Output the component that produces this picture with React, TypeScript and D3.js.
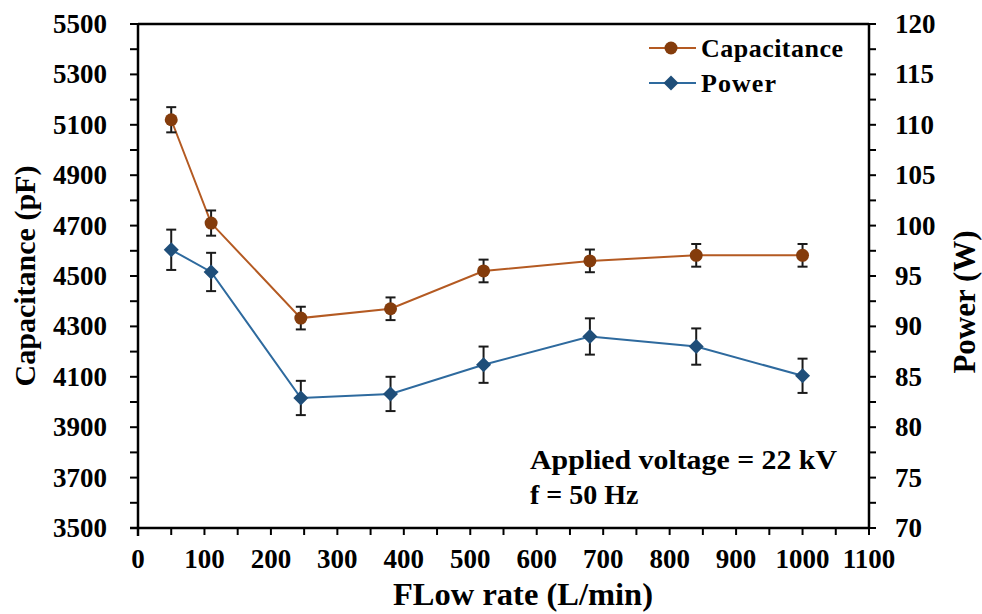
import React from "react";
import * as d3 from "d3";

// Flow rate (L/min) at each measurement
const flowRate = [50, 110, 245, 380, 520, 680, 840, 1000];
// Capacitance (pF) and its error
const capacitance = [5120, 4710, 4333, 4370, 4520, 4560, 4582, 4582];
const capacitanceErr = [50, 50, 45, 45, 45, 45, 45, 45];
// Discharge power (W) and its error
const power = [97.6, 95.4, 82.9, 83.3, 86.2, 89.0, 88.0, 85.1];
const powerErr = [2.0, 1.9, 1.7, 1.7, 1.8, 1.8, 1.8, 1.7];

const xTicks = d3.range(0, 1101, 100);
const xMinor = d3.range(0, 1101, 50);
const capTicks = d3.range(3500, 5501, 200);
const capMinor = d3.range(3500, 5501, 100);
const powTicks = d3.range(70, 121, 5);
const powMinor = d3.range(70, 120.1, 2.5);

const W = 982;
const H = 614;
const M = { left: 138, right: 869, top: 24, bottom: 528 };

const CAP_LINE = "#B45A22";
const CAP_MARK = "#843C0C";
const POW_LINE = "#2E6A9E";
const POW_MARK = "#1F4E79";
const FONT = "'Liberation Serif', 'Times New Roman', serif";

export default function App() {
  const x = d3.scaleLinear().domain([0, 1100]).range([M.left, M.right]);
  const yCap = d3.scaleLinear().domain([3500, 5500]).range([M.bottom, M.top]);
  const yPow = d3.scaleLinear().domain([70, 120]).range([M.bottom, M.top]);

  const capLine = d3
    .line<number>()
    .x((_, i) => x(flowRate[i]))
    .y((d) => yCap(d));
  const powLine = d3
    .line<number>()
    .x((_, i) => x(flowRate[i]))
    .y((d) => yPow(d));

  const diamond = (cx: number, cy: number, r: number) =>
    `M${cx},${cy - r}L${cx + r},${cy}L${cx},${cy + r}L${cx - r},${cy}Z`;

  const errBar = (cx: number, y1: number, y2: number, key: string) => (
    <g key={key} stroke="#1a1a1a" strokeWidth={2}>
      <line x1={cx} x2={cx} y1={y1} y2={y2} />
      <line x1={cx - 5} x2={cx + 5} y1={y1} y2={y1} />
      <line x1={cx - 5} x2={cx + 5} y1={y2} y2={y2} />
    </g>
  );

  const tickFont = 27;

  return (
    <svg
      width={W}
      height={H}
      style={{ position: "absolute", left: 0, top: 0, background: "#fff" }}
      fontFamily={FONT}
      fontWeight="bold"
    >
      <rect width={W} height={H} fill="#fff" />

      {/* frame */}
      <line x1={M.left} x2={M.right} y1={M.top} y2={M.top} stroke="#000" strokeWidth={2.5} />

      {/* x axis */}
      <line x1={M.left - 8} x2={M.right + 1} y1={M.bottom} y2={M.bottom} stroke="#000" strokeWidth={2.5} />
      {xMinor.map((v) => (
        <line key={"xm" + v} x1={x(v)} x2={x(v)} y1={M.bottom} y2={M.bottom + 7} stroke="#000" strokeWidth={2} />
      ))}
      {xTicks.map((v) => (
        <text key={"xt" + v} x={x(v)} y={M.bottom + 40} textAnchor="middle" fontSize={tickFont} fill="#000">
          {v}
        </text>
      ))}
      <text
        x={393}
        y={605}
        fontSize={31}
        fill="#000"
        textLength={260}
        lengthAdjust="spacingAndGlyphs"
      >
        FLow rate (L/min)
      </text>

      {/* left axis */}
      <line x1={M.left} x2={M.left} y1={M.top - 1} y2={M.bottom + 8} stroke="#000" strokeWidth={2.5} />
      {capMinor.map((v) => (
        <line key={"lm" + v} x1={M.left - 8} x2={M.left} y1={yCap(v)} y2={yCap(v)} stroke="#000" strokeWidth={2} />
      ))}
      {capTicks.map((v) => (
        <text key={"lt" + v} x={107} y={yCap(v) + 9} textAnchor="end" fontSize={tickFont} fill="#000">
          {v}
        </text>
      ))}
      <text
        transform={`translate(35,${(M.top + M.bottom) / 2}) rotate(-90)`}
        textAnchor="middle"
        fontSize={30}
        fill="#000"
      >
        Capacitance (pF)
      </text>

      {/* right axis */}
      <line x1={M.right} x2={M.right} y1={M.top - 1} y2={M.bottom + 1} stroke="#000" strokeWidth={2.5} />
      {powMinor.map((v) => (
        <line key={"rm" + v} x1={M.right} x2={M.right + 7} y1={yPow(v)} y2={yPow(v)} stroke="#000" strokeWidth={2} />
      ))}
      {powTicks.map((v) => (
        <text key={"rt" + v} x={895} y={yPow(v) + 9} textAnchor="start" fontSize={tickFont} fill="#000">
          {v}
        </text>
      ))}
      <text
        transform={`translate(975,302) rotate(-90)`}
        textAnchor="middle"
        fontSize={31}
        fill="#000"
      >
        Power (W)
      </text>

      {/* series lines */}
      <path d={capLine(capacitance) ?? ""} fill="none" stroke={CAP_LINE} strokeWidth={2} />
      <path d={powLine(power) ?? ""} fill="none" stroke={POW_LINE} strokeWidth={2} />

      {/* error bars */}
      {capacitance.map((v, i) =>
        errBar(x(flowRate[i]), yCap(v + capacitanceErr[i]), yCap(v - capacitanceErr[i]), "ce" + i)
      )}
      {power.map((v, i) => errBar(x(flowRate[i]), yPow(v + powerErr[i]), yPow(v - powerErr[i]), "pe" + i))}

      {/* markers */}
      {capacitance.map((v, i) => (
        <circle key={"cm" + i} cx={x(flowRate[i])} cy={yCap(v)} r={6.5} fill={CAP_MARK} />
      ))}
      {power.map((v, i) => (
        <path key={"pm" + i} d={diamond(x(flowRate[i]), yPow(v), 7.5)} fill={POW_MARK} />
      ))}

      {/* legend */}
      <g>
        <line x1={649} x2={696} y1={48} y2={48} stroke={CAP_LINE} strokeWidth={2} />
        <circle cx={671} cy={48} r={6.5} fill={CAP_MARK} />
        <text x={701} y={57} fontSize={26} fill="#000" textLength={142}>
          Capacitance
        </text>
        <line x1={649} x2={696} y1={83} y2={83} stroke={POW_LINE} strokeWidth={2} />
        <path d={diamond(671, 83, 7.5)} fill={POW_MARK} />
        <text x={701} y={92} fontSize={26} fill="#000" textLength={75}>
          Power
        </text>
      </g>

      {/* operating conditions */}
      <text x={530} y={469} fontSize={28} fill="#000" textLength={307} lengthAdjust="spacingAndGlyphs">
        Applied voltage = 22 kV
      </text>
      <text x={530} y={504} fontSize={28} fill="#000">
        f = 50 Hz
      </text>
    </svg>
  );
}
